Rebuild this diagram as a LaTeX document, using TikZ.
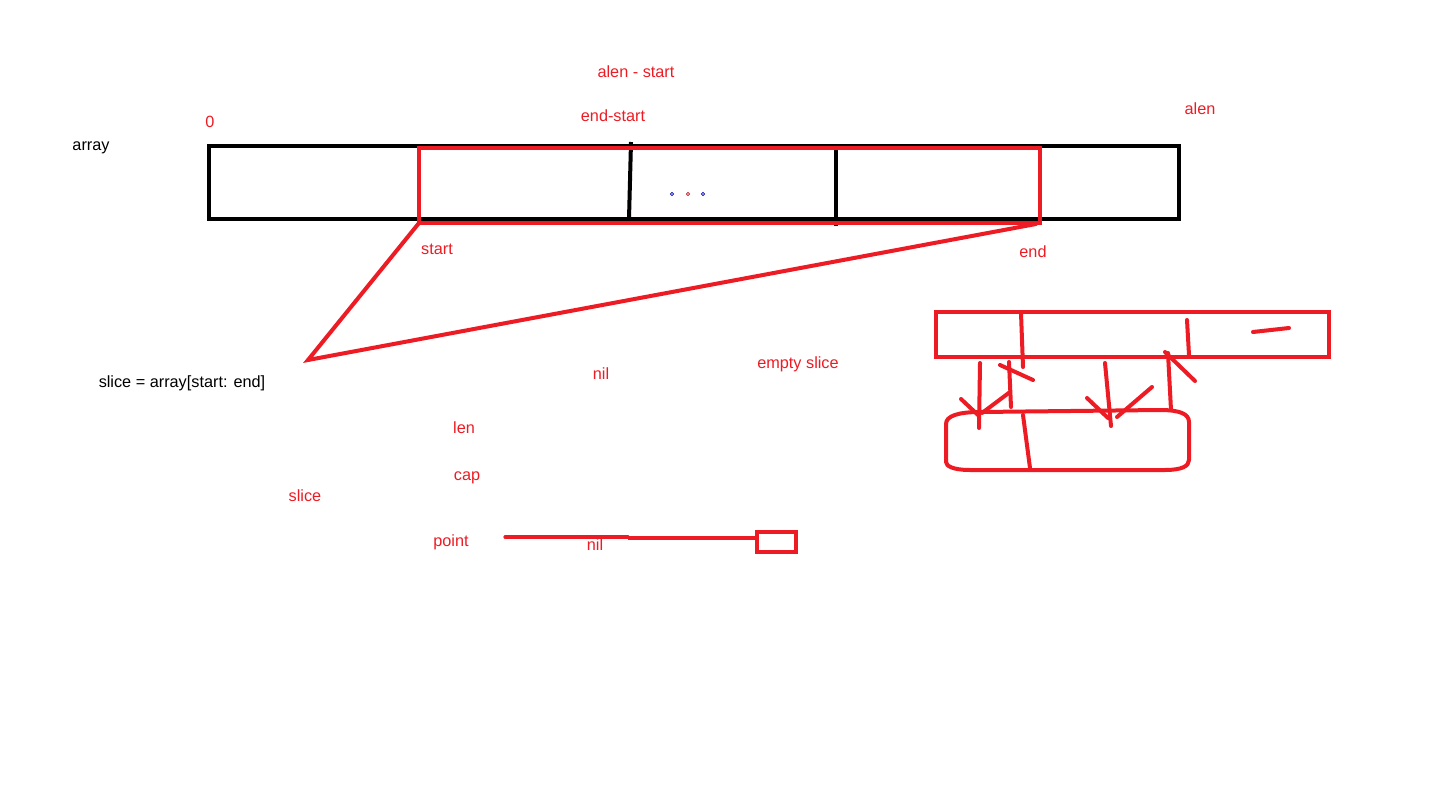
\documentclass[tikz,border=0pt]{standalone}
\usepackage{fontspec}
\setmainfont{Liberation Sans}
\definecolor{pred}{HTML}{ED1C24}
\begin{document}
\begin{tikzpicture}[x=0.75pt,y=-0.75pt,
  redtxt/.style={text=pred,font=\fontsize{12.2}{14}\selectfont,inner sep=0pt},
  blktxt/.style={text=black,font=\fontsize{12.2}{14}\selectfont,inner sep=0pt},
  redline/.style={draw=pred,line width=3pt,line cap=round},
  blkline/.style={draw=black,line width=3pt},
  boxnode/.style={line width=3pt,inner sep=0pt,outer sep=0pt,anchor=north west}]
\useasboundingbox[fill=white] (0,0) rectangle (1438,785);

% array
\node[boxnode,draw=black,minimum width=727.5pt,minimum height=54.75pt] (arr) at (209,146) {};
\coordinate (d1t) at (419,146); \coordinate (d1b) at (419,219);
\coordinate (d2t) at (631,142); \coordinate (d2b) at (629,219);
\coordinate (d3t) at (836,150); \coordinate (d3b) at (836,226);
\draw[blkline] (d1t) -- (d1b);
\draw[blkline] (d2t) -- (d2b);
\draw[blkline] (d3t) -- (d3b);
\foreach \x/\c in {672/blue!70!black,688/pred!80!black,703/blue!70!black}
  \draw[\c,line width=0.6pt] (\x,194) circle (1.6);

% slice window
\node[boxnode,draw=pred,minimum width=465.75pt,minimum height=56.25pt] (win) at (419,148) {};
\coordinate (sl) at (308,360);
\coordinate (ws) at (419,223);
\coordinate (we) at (1036,224);
\draw[redline] (ws) -- (sl) -- (we);

% texts
\node[redtxt] (t0) at (210,122) {0};
\node[redtxt] (tas) at (636,72) {alen - start};
\node[redtxt] (tes) at (613,116) {end-start};
\node[redtxt] (talen) at (1200,109) {alen};
\node[blktxt] (tarr) at (91,148) {array};
\node[redtxt] (tst) at (437,249) {start};
\node[redtxt] (tend) at (1033,252) {end};
\node[blktxt] (tslice) at (182,383) {slice = array[start: end]};
\node[redtxt] (tnil1) at (601,374) {nil};
\node[redtxt] (tempty) at (798,364) {empty slice};
\node[redtxt] (tlen) at (464,428) {len};
\node[redtxt] (tcap) at (467,478) {cap};
\node[redtxt] (tsl2) at (305,496) {slice};
\node[redtxt] (tpt) at (451,542) {point};
\node[redtxt] (tnil2) at (595,545) {nil};

% pointer to nil box
\node[boxnode,draw=pred,minimum width=29.25pt,minimum height=15pt] (nbox) at (757,532) {};
\coordinate (p0) at (505,537);
\coordinate (p1) at (628,537);
\coordinate (p2) at (628,538);
\draw[draw=pred,line width=2.4pt,line cap=round] (p0) -- (p1);
\draw[draw=pred,line width=3pt] (p2) -- (nbox.west |- p2);

% right sketch: top box
\node[boxnode,draw=pred,minimum width=294.75pt,minimum height=33.75pt] (tb) at (936,312) {};
\draw[redline] (1021,313) -- (1023,367);
\draw[redline] (1187,320) -- (1189,355);
\draw[redline] (1253,332) -- (1289,328);

% lower rounded box
\draw[redline,line cap=butt,line join=round]
  (980,412) -- (1160,410)
  .. controls (1180,410) and (1189,414) .. (1189,422)
  -- (1189,460)
  .. controls (1189,466) and (1182,470) .. (1165,470)
  -- (970,470)
  .. controls (953,470) and (946,466) .. (946,462)
  -- (946,424)
  .. controls (946,416) and (958,412) .. (980,412);
\draw[redline] (1023,415) -- (1030,468);

% arrows (hand drawn)
\draw[redline] (980,363) -- (979,428);
\draw[redline] (961,399) -- (978,415);
\draw[redline] (1010,392) -- (982,413);
\draw[redline] (1011,407) -- (1009,362);
\draw[redline] (1000,365) -- (1033,380);
\draw[redline] (1105,363) -- (1111,426);
\draw[redline] (1087,398) -- (1108,418);
\draw[redline] (1152,387) -- (1117,417);
\draw[redline] (1171,410) -- (1168,353);
\draw[redline] (1165,352) -- (1195,381);
\end{tikzpicture}
\end{document}
